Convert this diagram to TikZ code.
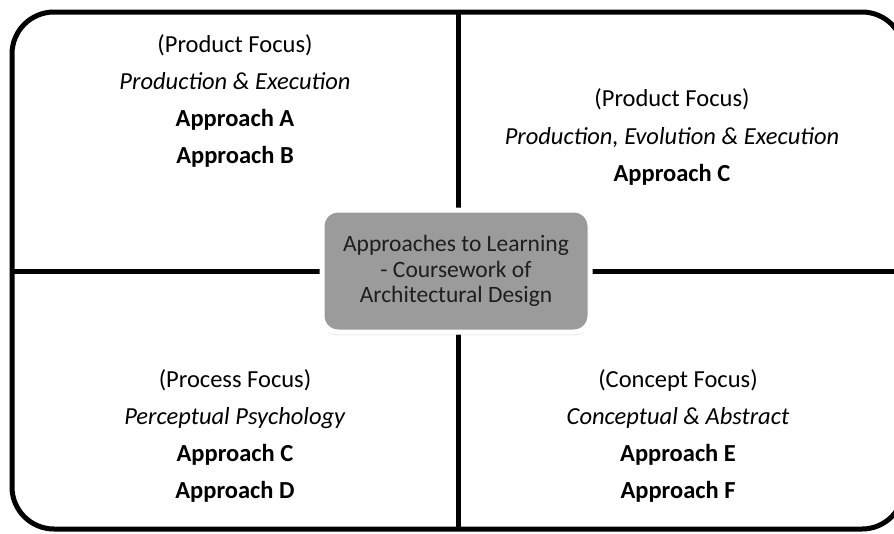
\documentclass[tikz,border=0pt]{standalone}
\usepackage{fontspec}
\setmainfont{Carlito}
\usetikzlibrary{shadows}
\definecolor{hubgray}{RGB}{155,155,155}
\definecolor{hubtext}{RGB}{30,30,30}
\begin{document}
\begin{tikzpicture}[x=1pt,y=-1pt,
  frame/.style={line width=5pt,draw=black},
  divider/.style={line width=5pt,draw=black},
  qtext/.style={align=center,font=\fontsize{24.5}{37.3}\selectfont,inner sep=0pt,text=black},
  hub/.style={fill=hubgray,draw=white,line width=5pt,rounded corners=16pt,
    minimum width=268pt,minimum height=122pt,align=center,text=hubtext,
    font=\fontsize{23.5}{25.5}\selectfont,
    drop shadow={shadow xshift=0pt,shadow yshift=-3pt,opacity=0.3}}
]
\useasboundingbox (0,0) rectangle (894,533);
\clip (0,0) rectangle (894,533);
\coordinate (fTL) at (12,12);
\coordinate (fBR) at (904,529);
\draw[frame,rounded corners=42pt] (fTL) rectangle (fBR);
\coordinate (vTop) at (458,12);
\coordinate (vBot) at (458,529);
\coordinate (hL) at (12,271);
\coordinate (hR) at (904,271);
\draw[divider] (vTop) -- (vBot);
\draw[divider] (hL) -- (hR);
\node[hub] (hubnode) at (456,271) {Approaches to Learning\\- Coursework of\\Architectural Design};
\node[qtext] (q1) at (235,101) {(Product Focus)\\\textit{Production \& Execution}\\\textbf{Approach A}\\\textbf{Approach B}};
\node[qtext] (q2) at (672,137) {(Product Focus)\\\textit{Production, Evolution \& Execution}\\\textbf{Approach C}};
\node[qtext] (q3) at (235,436) {(Process Focus)\\\textit{Perceptual Psychology}\\\textbf{Approach C}\\\textbf{Approach D}};
\node[qtext] (q4) at (678,436) {(Concept Focus)\\\textit{Conceptual \& Abstract}\\\textbf{Approach E}\\\textbf{Approach F}};
\end{tikzpicture}
\end{document}
